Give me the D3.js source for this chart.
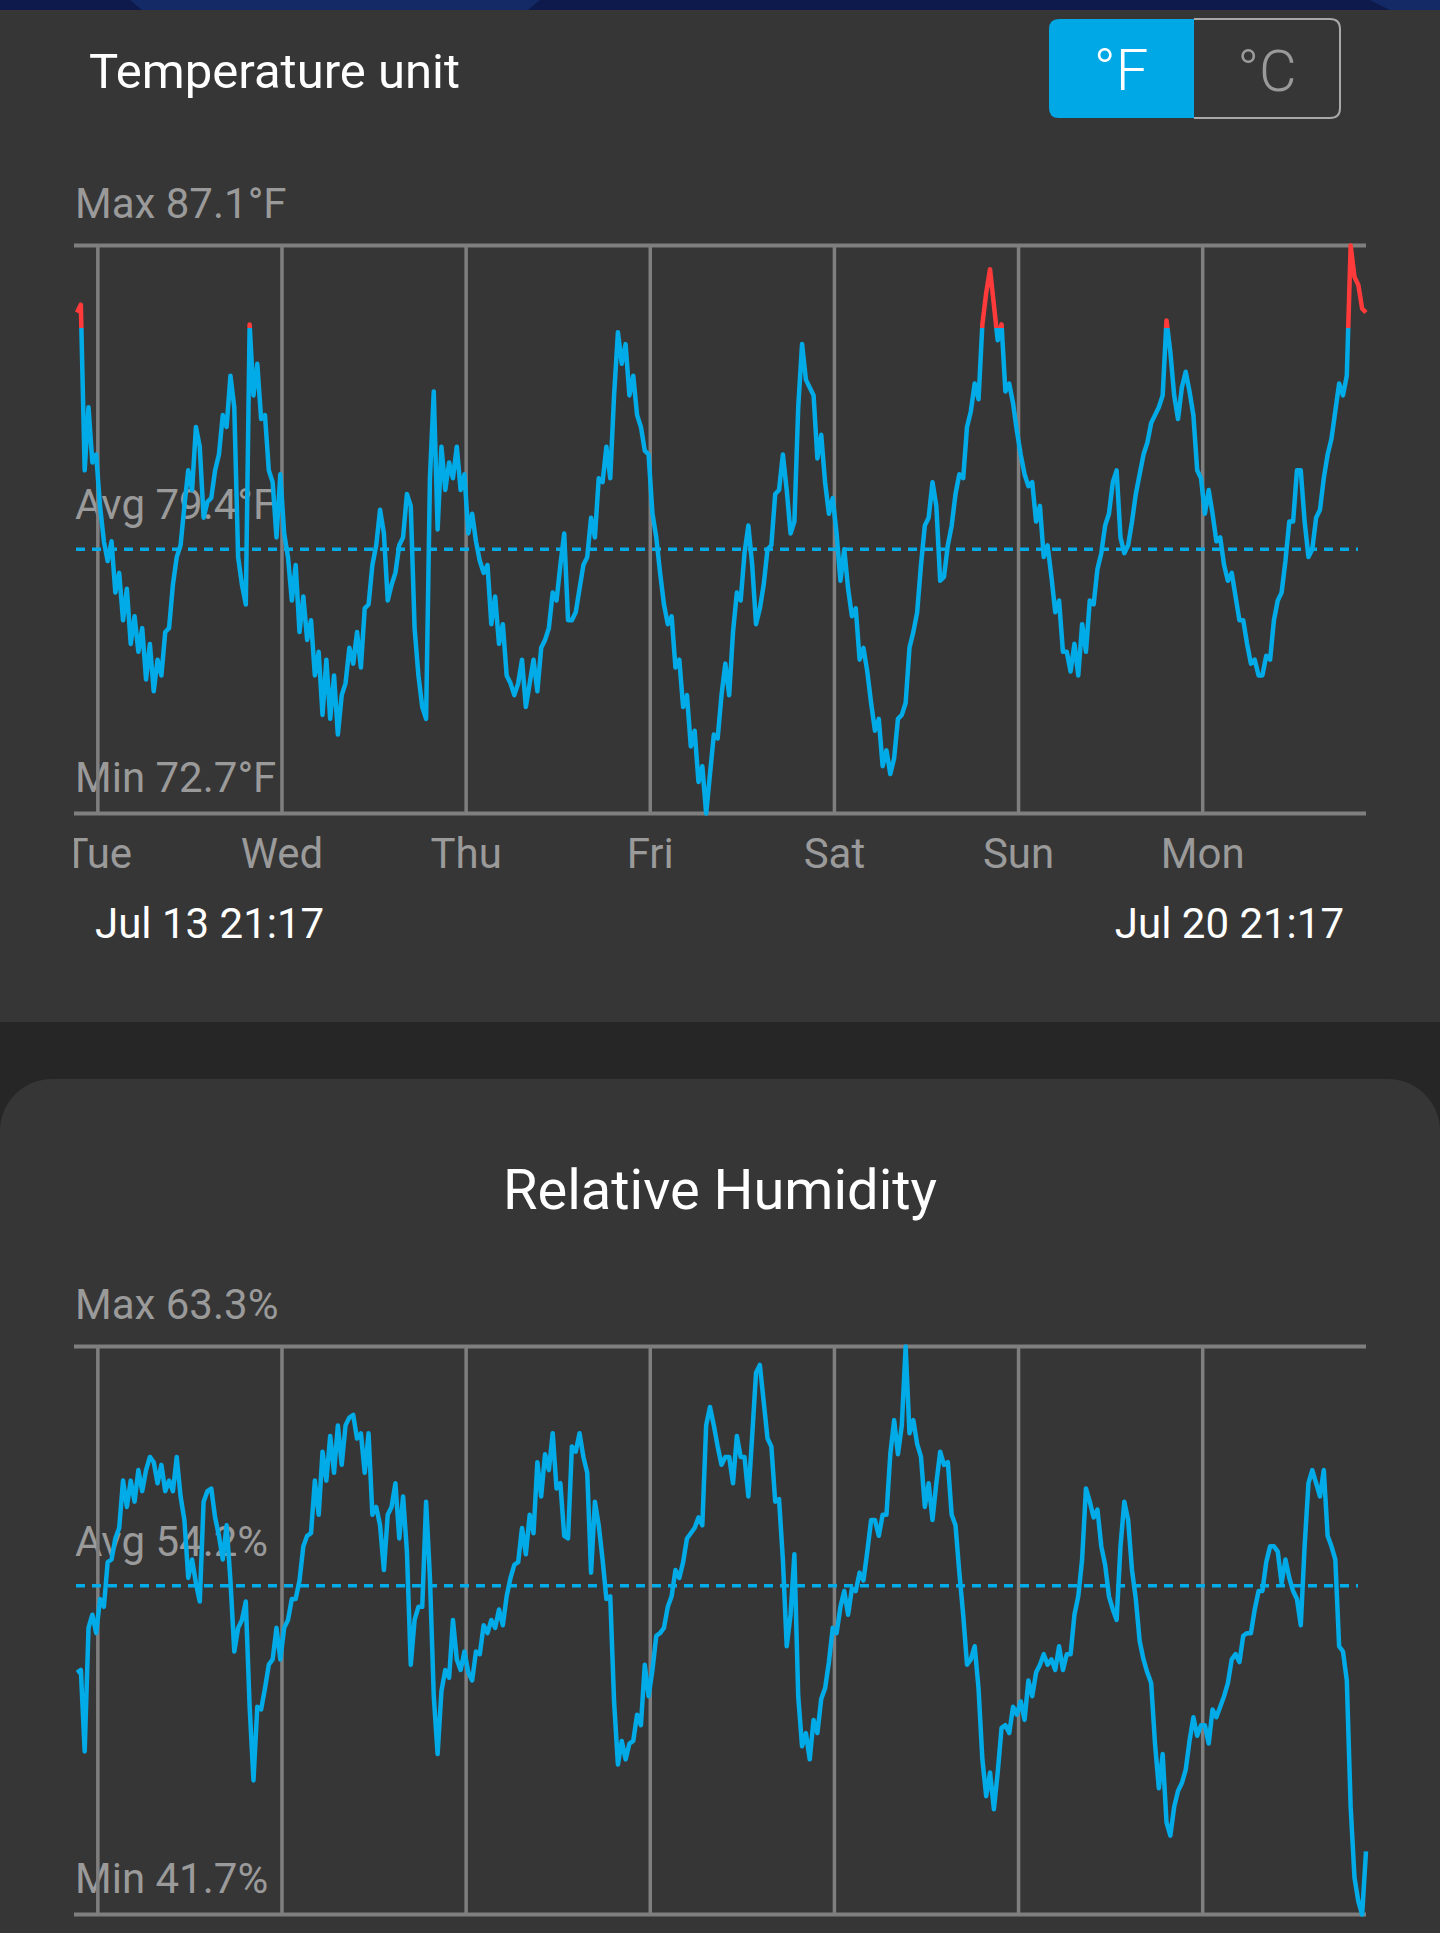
<!DOCTYPE html>
<html lang="en">
<head>
    <meta charset="UTF-8">
    <title>Temperature and humidity history</title>
    <script src="https://cdn.jsdelivr.net/npm/d3@7"></script>
    <style>
        body {margin: 0; background: #363636; font-family: Roboto, "Noto Sans", sans-serif;}
        svg {display: block;}
    </style>
</head>
<body>
<div id="page"></div>
<script>

// ---- data ----
var startTime = new Date(2021, 6, 13, 21, 17);   // Jul 13 21:17
var endTime = new Date(2021, 6, 20, 21, 17);     // Jul 20 21:17
var stepMinutes = 30;

// day names are placed on the midnight lines
var dayLabels = ["Tue", "Wed", "Thu", "Fri", "Sat", "Sun", "Mon"];

// temperature, deg F, one reading every 30 minutes
var tempF = [
    85.4, 85.6, 81.4, 83.0, 81.6, 81.8, 80.5, 79.6, 79.1, 79.6,
    78.3, 78.8, 77.6, 78.4, 77.0, 77.7, 76.8, 77.4, 76.1, 77.0,
    75.8, 76.6, 76.2, 77.3, 77.4, 78.5, 79.2, 79.5, 80.5, 81.4,
    80.9, 82.5, 82.0, 80.2, 80.6, 80.7, 81.4, 81.8, 82.8, 82.5,
    83.8, 83.0, 79.2, 78.5, 78.0, 85.1, 83.3, 84.1, 82.7, 82.8,
    81.4, 81.1, 79.7, 81.3, 79.8, 79.2, 78.1, 79.0, 77.3, 78.2,
    77.1, 77.6, 76.2, 76.8, 75.2, 76.6, 75.1, 76.2, 74.7, 75.7,
    76.0, 76.9, 76.5, 77.3, 76.4, 77.9, 78.0, 79.0, 79.5, 80.4,
    79.8, 78.1, 78.5, 78.8, 79.5, 79.7, 80.8, 80.5, 77.4, 76.2,
    75.4, 75.1, 81.2, 83.4, 79.9, 82.0, 80.9, 81.6, 81.2, 82.0,
    80.9, 81.3, 79.8, 80.3, 79.6, 79.1, 78.8, 79.0, 77.5, 78.2,
    77.0, 77.5, 76.2, 76.0, 75.7, 76.0, 76.6, 75.4, 76.0, 76.6,
    75.8, 76.9, 77.1, 77.4, 78.3, 78.1, 79.0, 79.8, 77.6, 77.6,
    77.8, 78.4, 79.0, 79.2, 80.2, 79.7, 81.2, 81.1, 82.0, 81.2,
    83.3, 84.9, 84.1, 84.6, 83.3, 83.8, 82.8, 82.5, 81.9, 81.8,
    80.3, 79.7, 78.8, 78.0, 77.5, 77.7, 76.4, 76.6, 75.4, 75.7,
    74.4, 74.8, 73.5, 73.9, 72.7, 73.7, 74.7, 74.6, 75.7, 76.5,
    75.7, 77.3, 78.3, 78.1, 79.3, 80.0, 79.0, 77.5, 77.9, 78.5,
    79.4, 79.5, 80.8, 80.9, 81.8, 80.9, 79.8, 80.1, 83.0, 84.6,
    83.7, 83.5, 83.3, 81.7, 82.3, 81.1, 80.3, 80.7, 79.8, 78.6,
    79.4, 78.4, 77.7, 77.9, 76.6, 76.9, 76.3, 75.5, 74.8, 75.1,
    73.9, 74.3, 73.7, 74.1, 75.1, 75.2, 75.5, 76.9, 77.3, 77.8,
    79.0, 80.0, 80.2, 81.1, 80.5, 78.6, 78.7, 79.5, 80.0, 80.8,
    81.3, 81.2, 82.5, 82.9, 83.6, 83.2, 85.1, 85.9, 86.5, 85.6,
    84.7, 85.1, 83.4, 83.6, 83.1, 82.4, 81.8, 81.3, 81.0, 81.1,
    80.1, 80.5, 79.2, 79.5, 78.7, 77.8, 78.1, 76.8, 76.8, 76.3,
    77.0, 76.2, 77.5, 76.8, 78.1, 78.0, 78.9, 79.3, 80.0, 80.3,
    81.1, 81.4, 79.7, 79.3, 79.5, 80.1, 80.8, 81.3, 81.8, 82.1,
    82.6, 82.8, 83.0, 83.3, 85.2, 84.4, 83.3, 82.7, 83.5, 83.9,
    83.4, 82.8, 81.4, 81.2, 80.3, 80.9, 80.3, 79.6, 79.7, 79.0,
    78.6, 78.8, 78.2, 77.6, 77.6, 77.0, 76.5, 76.6, 76.2, 76.2,
    76.7, 76.6, 77.6, 78.1, 78.3, 79.1, 80.1, 80.1, 81.4, 81.4,
    80.1, 79.2, 79.4, 80.2, 80.4, 81.2, 81.8, 82.2, 82.9, 83.6,
    83.3, 83.8, 87.1, 86.3, 86.1, 85.5, 85.4
];

// relative humidity, %, same times
var humidity = [
    50.9, 51.0, 47.9, 52.6, 53.1, 52.4, 53.7, 53.4, 55.1, 55.2,
    56.0, 56.4, 58.2, 57.2, 58.2, 57.4, 58.6, 57.8, 58.6, 59.1,
    58.9, 58.1, 58.8, 57.8, 58.2, 57.8, 59.1, 57.6, 56.7, 54.5,
    55.2, 54.3, 53.6, 57.4, 57.8, 57.9, 56.8, 56.1, 55.2, 56.5,
    54.4, 51.7, 52.6, 52.9, 53.6, 49.6, 46.8, 49.6, 49.5, 50.3,
    51.2, 51.4, 52.6, 51.4, 52.6, 52.9, 53.7, 53.7, 54.4, 55.7,
    56.1, 56.2, 58.2, 56.9, 59.3, 58.2, 59.9, 58.5, 60.3, 58.8,
    60.3, 60.6, 60.7, 59.8, 60.0, 58.5, 60.0, 56.9, 57.2, 56.5,
    54.8, 56.9, 57.2, 58.1, 56.0, 57.6, 55.5, 51.2, 52.9, 53.4,
    53.4, 57.4, 54.5, 50.0, 47.8, 50.2, 51.0, 50.7, 52.9, 51.4,
    51.0, 51.7, 50.9, 50.6, 51.7, 51.6, 52.7, 52.4, 52.9, 52.6,
    53.3, 52.7, 53.8, 54.5, 55.0, 55.1, 56.4, 55.4, 56.9, 56.2,
    58.9, 57.6, 59.2, 58.6, 60.0, 57.9, 58.1, 56.1, 56.0, 59.5,
    59.3, 60.0, 59.1, 58.5, 54.7, 57.4, 56.5, 55.2, 53.7, 53.8,
    49.8, 47.4, 48.3, 47.6, 48.2, 48.3, 49.3, 48.9, 51.2, 50.0,
    51.0, 52.3, 52.4, 52.6, 53.4, 53.8, 54.8, 54.5, 55.1, 56.0,
    56.2, 56.4, 56.8, 56.5, 60.3, 61.0, 60.3, 59.5, 58.8, 59.1,
    59.1, 58.1, 59.9, 59.1, 59.1, 57.6, 59.9, 62.3, 62.6, 61.2,
    59.8, 59.5, 57.4, 57.5, 55.2, 51.9, 53.1, 55.4, 50.0, 48.1,
    48.6, 47.6, 49.1, 48.6, 49.9, 50.3, 51.3, 52.6, 52.4, 53.4,
    54.0, 53.1, 54.1, 54.0, 54.7, 54.4, 55.5, 56.7, 56.7, 56.1,
    56.9, 56.9, 59.2, 60.5, 59.2, 60.3, 63.3, 60.0, 60.5, 59.6,
    59.1, 57.2, 58.1, 56.7, 58.1, 59.3, 58.8, 58.9, 56.9, 56.5,
    54.7, 53.1, 51.2, 51.4, 51.9, 50.3, 47.6, 46.2, 47.1, 45.7,
    47.1, 48.8, 48.9, 48.6, 49.6, 49.3, 49.8, 49.1, 50.6, 50.0,
    50.9, 51.2, 51.6, 51.2, 51.4, 51.0, 51.9, 51.0, 51.6, 51.6,
    53.1, 53.8, 55.2, 57.9, 57.4, 56.8, 57.1, 55.7, 55.0, 53.8,
    53.3, 52.9, 55.7, 57.4, 56.7, 54.8, 53.7, 52.1, 51.4, 50.9,
    50.5, 48.2, 46.5, 47.8, 45.2, 44.7, 45.8, 46.4, 46.7, 47.2,
    48.3, 49.2, 48.5, 48.9, 48.9, 48.2, 49.5, 49.2, 49.6, 50.0,
    50.5, 51.4, 51.6, 51.3, 52.3, 52.4, 52.4, 53.3, 54.0, 54.0,
    55.1, 55.7, 55.7, 55.5, 54.3, 55.2, 54.5, 54.0, 53.7, 52.7,
    55.7, 58.1, 58.6, 58.1, 57.6, 58.6, 56.1, 55.7, 55.2, 51.9,
    51.7, 50.6, 45.8, 43.1, 42.2, 41.7, 44.1
];

// summary values printed on the charts
var tempMax = 87.1, tempAvg = 79.4, tempMin = 72.7;
var humMax = 63.3, humAvg = 54.2, humMin = 41.7;
var hotLimit = 85;   // readings above this are drawn red

// ---- layout ----
var width = 1440;
var height = 1933;
var plotLeft = 74;
var plotRight = 1366;
var lineColor = "#00abe8";
var hotColor = "#ff3a3a";
var gridColor = "#7f7f7f";
var labelColor = "#9a9a9a";

var times = tempF.map(function(d, i){
    return d3.timeMinute.offset(startTime, i * stepMinutes);
});

var xScale = d3.scaleTime()
    .domain([startTime, endTime])
    .range([77, plotRight]);

var midnights = d3.timeDay.range(d3.timeDay.ceil(startTime), endTime);

var svg = d3.select("#page").append("svg")
    .attr("width", width)
    .attr("height", height);

var defs = svg.append("defs");

// backgrounds
svg.append("rect").attr("width", width).attr("height", height).attr("fill", "#363636");
svg.append("rect").attr("width", width).attr("height", 10).attr("fill", "#0e1a4b");
svg.append("path").attr("d", "M130,0 L540,0 L528,10 L142,10 Z").attr("fill", "#142a66");
svg.append("path").attr("d", "M1370,0 L1440,0 L1440,10 L1390,10 Z").attr("fill", "#142a66");
svg.append("rect").attr("x", 0).attr("y", 1022).attr("width", width).attr("height", 140).attr("fill", "#262626");
svg.append("rect").attr("x", 0).attr("y", 1079).attr("width", width).attr("height", 900)
    .attr("rx", 52).attr("fill", "#363636");

// header with unit switch
svg.append("text")
    .attr("x", 89).attr("y", 88)
    .attr("font-size", 49)
    .attr("fill", "#ffffff")
    .text("Temperature unit");

svg.append("path")
    .attr("d", "M1194,19 L1059,19 Q1049,19 1049,29 L1049,108 Q1049,118 1059,118 L1194,118 Z")
    .attr("fill", "#00a9e6");
svg.append("path")
    .attr("d", "M1194,19 L1330,19 Q1340,19 1340,29 L1340,108 Q1340,118 1330,118 L1194,118")
    .attr("fill", "none")
    .attr("stroke", "#a8a8a8")
    .attr("stroke-width", 2);
svg.append("text")
    .attr("x", 1121).attr("y", 90)
    .attr("text-anchor", "middle")
    .attr("font-size", 58).attr("font-weight", 300)
    .attr("fill", "#ffffff")
    .text("°F");
svg.append("text")
    .attr("x", 1267).attr("y", 91)
    .attr("text-anchor", "middle")
    .attr("font-size", 58).attr("font-weight", 300)
    .attr("fill", "#9a9a9a")
    .text("°C");

svg.append("text")
    .attr("x", 720).attr("y", 1209)
    .attr("text-anchor", "middle")
    .attr("font-size", 56)
    .attr("fill", "#ffffff")
    .text("Relative Humidity");

// clip for the day names (first one is cut at the left edge)
defs.append("clipPath").attr("id", "dayClip")
    .append("rect").attr("x", plotLeft).attr("y", 0).attr("width", width).attr("height", height);

// one chart panel
function drawPanel(id, values, top, bottom, vMin, vAvg, vMax, unit, hot){
    var yScale = d3.scaleLinear()
        .domain([vMin, vMax])
        .range([bottom, top]);

    var g = svg.append("g").attr("id", id);

    // max / avg / min labels (under the line)
    var fmt = d3.format(".1f");
    g.append("text").attr("x", 75).attr("y", top - 28)
        .attr("font-size", 42).attr("fill", labelColor)
        .text("Max " + fmt(vMax) + unit);
    g.append("text").attr("x", 75).attr("y", yScale(vAvg) - 30)
        .attr("font-size", 42).attr("fill", labelColor)
        .text("Avg " + fmt(vAvg) + unit);
    g.append("text").attr("x", 75).attr("y", bottom - 22)
        .attr("font-size", 42).attr("fill", labelColor)
        .text("Min " + fmt(vMin) + unit);

    // day grid lines
    g.selectAll("line.day")
        .data(midnights)
        .enter().append("line")
            .attr("class", "day")
            .attr("x1", function(d){ return xScale(d); })
            .attr("x2", function(d){ return xScale(d); })
            .attr("y1", top)
            .attr("y2", bottom)
            .attr("stroke", gridColor)
            .attr("stroke-width", 3.5);

    // top and bottom rules
    [top, bottom].forEach(function(yy){
        g.append("line")
            .attr("x1", plotLeft).attr("x2", plotRight)
            .attr("y1", yy).attr("y2", yy)
            .attr("stroke", gridColor)
            .attr("stroke-width", 4);
    });

    // average, dashed
    g.append("line")
        .attr("x1", 76).attr("x2", 1358)
        .attr("y1", yScale(vAvg)).attr("y2", yScale(vAvg))
        .attr("stroke", lineColor)
        .attr("stroke-width", 3.5)
        .attr("stroke-dasharray", "9,7");

    // line colour: red above the hot limit
    var stroke = lineColor;
    if (hot) {
        var grad = defs.append("linearGradient")
            .attr("id", id + "Grad")
            .attr("gradientUnits", "userSpaceOnUse")
            .attr("x1", 0).attr("x2", 0)
            .attr("y1", top).attr("y2", bottom);
        var cut = (yScale(hot) - top) / (bottom - top);
        grad.append("stop").attr("offset", 0).attr("stop-color", hotColor);
        grad.append("stop").attr("offset", cut).attr("stop-color", hotColor);
        grad.append("stop").attr("offset", cut).attr("stop-color", lineColor);
        grad.append("stop").attr("offset", 1).attr("stop-color", lineColor);
        stroke = "url(#" + id + "Grad)";
    }

    var line = d3.line()
        .x(function(d, i){ return xScale(times[i]); })
        .y(function(d){ return yScale(d); });

    g.append("path")
        .datum(values)
        .attr("d", line)
        .attr("fill", "none")
        .attr("stroke", stroke)
        .attr("stroke-width", 4.5)
        .attr("stroke-linejoin", "round");
}

drawPanel("temp", tempF, 245.5, 813.5, tempMin, tempAvg, tempMax, "°F", hotLimit);
drawPanel("hum", humidity, 1346.5, 1914.5, humMin, humAvg, humMax, "%", null);

// day names under the temperature chart
svg.append("g").attr("clip-path", "url(#dayClip)")
    .selectAll("text")
    .data(midnights)
    .enter().append("text")
        .attr("x", function(d){ return xScale(d); })
        .attr("y", 868)
        .attr("text-anchor", "middle")
        .attr("font-size", 42)
        .attr("fill", labelColor)
        .text(function(d, i){ return dayLabels[i]; });

// time span
var spanFmt = d3.timeFormat("%b %d %H:%M");
svg.append("text")
    .attr("x", 95).attr("y", 938)
    .attr("font-size", 42).attr("fill", "#ffffff")
    .text(spanFmt(startTime));
svg.append("text")
    .attr("x", 1344).attr("y", 938)
    .attr("text-anchor", "end")
    .attr("font-size", 42).attr("fill", "#ffffff")
    .text(spanFmt(endTime));

</script>
</body>
</html>
